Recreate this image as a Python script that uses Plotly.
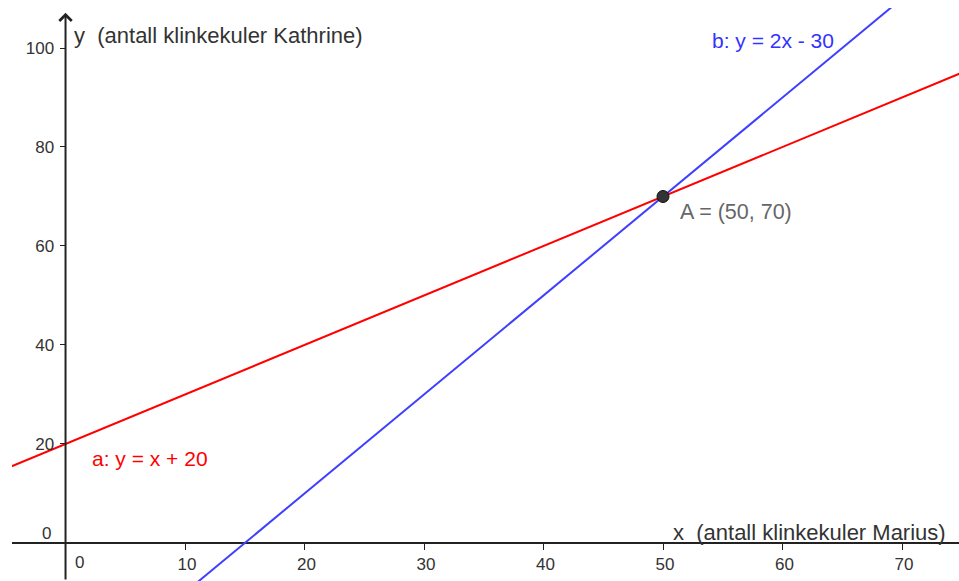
import plotly.graph_objects as go

# ---- data ----
line_names = ["a", "b"]
line_labels = ["a: y = x + 20", "b: y = 2x - 30"]
slopes = [1, 2]
intercepts = [20, -30]
line_colors = ["#ff0000", "#3f3fff"]
point_label = "A = (50, 70)"
point_x = [50]
point_y = [70]
x_ticks = [10, 20, 30, 40, 50, 60, 70]
y_ticks = [20, 40, 60, 80, 100]
x_title = "x  (antall klinkekuler Marius)"
y_title = "y  (antall klinkekuler Kathrine)"

X_RANGE = [-4.48, 74.77]
Y_RANGE = [-7.68, 108.08]

FONT = "Liberation Sans, Arial, sans-serif"
AXIS_COLOR = "#222222"
TEXT_COLOR = "#333333"

fig = go.Figure()

for name, m, c, col in zip(line_names, slopes, intercepts, line_colors):
    xs = [X_RANGE[0] - 5, X_RANGE[1] + 5]
    ys = [m * x + c for x in xs]
    fig.add_trace(go.Scatter(x=xs, y=ys, mode="lines", name=name,
                             line=dict(color=col, width=2), hoverinfo="skip"))

fig.add_trace(go.Scatter(x=point_x, y=point_y, mode="markers", name="A",
                         marker=dict(size=12, color="#333333",
                                     line=dict(color="#111111", width=1))))

ypos = (0 - Y_RANGE[0]) / (Y_RANGE[1] - Y_RANGE[0])
xpos = (0 - X_RANGE[0]) / (X_RANGE[1] - X_RANGE[0])

fig.update_layout(
    width=959, height=581,
    margin=dict(l=12, r=0, t=8, b=0),
    paper_bgcolor="white", plot_bgcolor="white",
    showlegend=False,
    font=dict(family=FONT, color=TEXT_COLOR, size=17),
    xaxis=dict(range=X_RANGE, showgrid=False, zeroline=False, showline=False,
               tickvals=x_ticks, ticks="outside", ticklen=6, tickwidth=1,
               tickcolor=AXIS_COLOR, anchor="free", position=ypos,
               ticklabelshift=2, tickfont=dict(size=17, color=TEXT_COLOR)),
    yaxis=dict(range=Y_RANGE, showgrid=False, zeroline=True,
               zerolinecolor=AXIS_COLOR, zerolinewidth=2, showline=False,
               tickvals=y_ticks, ticks="outside", ticklen=6, tickwidth=1,
               tickcolor=AXIS_COLOR, anchor="free", position=xpos,
               ticklabelstandoff=2,
               tickfont=dict(size=17, color=TEXT_COLOR)),
)

# y-axis line with arrow head
fig.add_annotation(x=0, y=107.1, ax=0, ay=Y_RANGE[0], xref="x", yref="y",
                   axref="x", ayref="y", text="", showarrow=True,
                   arrowhead=4, arrowsize=1.2, arrowwidth=2,
                   arrowcolor=AXIS_COLOR, standoff=0, startstandoff=0)

# zero tick labels
fig.add_annotation(x=0.63, y=-4.0, text="0", showarrow=False, xanchor="left",
                   yanchor="middle", font=dict(size=17, color=TEXT_COLOR))
fig.add_annotation(x=-1.05, y=2.0, text="0", showarrow=False, xanchor="right",
                   yanchor="middle", font=dict(size=17, color=TEXT_COLOR))

# axis titles
fig.add_annotation(x=0.54, y=102.6, text=y_title, showarrow=False,
                   xanchor="left", yanchor="middle",
                   font=dict(size=22, color=TEXT_COLOR))
fig.add_annotation(x=73.85, y=2.2, text=x_title, showarrow=False,
                   xanchor="right", yanchor="middle",
                   font=dict(size=22, color=TEXT_COLOR))

# line labels
fig.add_annotation(x=2.05, y=17.0, text=line_labels[0], showarrow=False,
                   xanchor="left", yanchor="middle",
                   font=dict(size=21, color="#ff0000"))
fig.add_annotation(x=53.9, y=101.6, text=line_labels[1], showarrow=False,
                   xanchor="left", yanchor="middle",
                   font=dict(size=21, color="#3333ff"))

# point label
fig.add_annotation(x=51.25, y=66.9, text=point_label, showarrow=False,
                   xanchor="left", yanchor="middle",
                   font=dict(size=21.5, color="#666666"))

fig.write_html(
    "out.html",
    config={"displayModeBar": False},
    post_script="document.body.style.margin='0px';"
                "document.body.style.overflow='hidden';",
)
